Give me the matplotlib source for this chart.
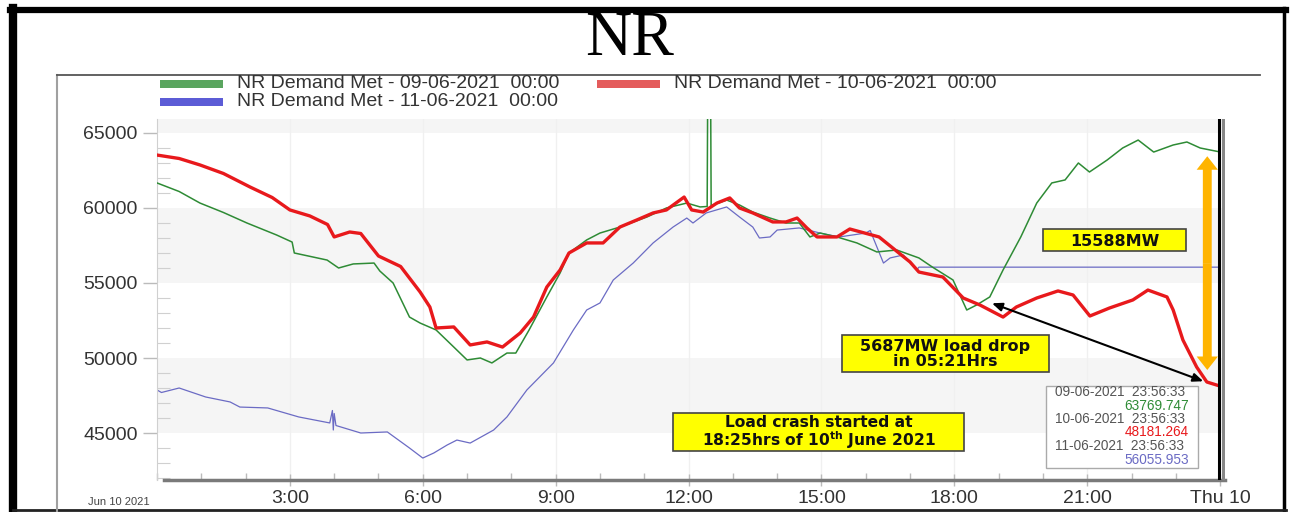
import numpy as np
import matplotlib
matplotlib.use("Agg")
import matplotlib.pyplot as plt
from matplotlib.patches import Rectangle, FancyArrow
from matplotlib.ticker import MultipleLocator, FixedLocator

plt.rcParams['font.family'] = ['Liberation Sans', 'DejaVu Sans']

# ---- data (hour of day, MW) ----
red_h = [0, 0.5, 0.97, 1.5, 2.1, 2.6, 3.0, 3.45, 3.85, 4.0, 4.35, 4.6, 5.0, 5.5,
         5.94, 6.16, 6.3, 6.7, 7.07, 7.45, 7.8, 8.2, 8.5, 8.8, 9.1, 9.3, 9.7,
         10.07, 10.45, 10.83, 11.2, 11.5, 11.9, 12.07, 12.33, 12.64, 12.93, 13.15,
         13.45, 13.9, 14.2, 14.45, 14.67, 14.9, 15.35, 15.64, 16.3, 17.0, 17.2,
         17.74, 18.2, 18.58, 19.1, 19.4, 19.86, 20.34, 20.68, 21.06, 21.5, 22.03,
         22.37, 22.8, 22.94, 23.16, 23.47, 23.7, 23.94]
red_v = [63530, 63300, 62870, 62300, 61400, 60700, 59870, 59470, 58900, 58070,
         58400, 58300, 56800, 56100, 54400, 53400, 52000, 52070, 50870, 51070,
         50730, 51670, 52730, 54730, 55870, 57000, 57670, 57670, 58730, 59200,
         59670, 59870, 60730, 59870, 59730, 60330, 60670, 60000, 59670, 59070,
         59070, 59330, 58670, 58070, 58070, 58600, 58070, 56400, 55730, 55400,
         54000, 53530, 52730, 53400, 54000, 54470, 54200, 52800, 53330, 53870,
         54530, 54070, 53200, 51200, 49400, 48400, 48181]

green_h = [0, 0.5, 0.97, 1.5, 2.03, 2.7, 3.05, 3.1, 3.84, 4.1, 4.43, 4.9, 5.03,
           5.33, 5.7, 5.94, 6.3, 6.7, 7.0, 7.3, 7.56, 7.9, 8.1, 8.4, 8.8, 9.1,
           9.3, 9.7, 10.0, 10.45, 11.06, 11.5, 11.96, 12.26, 12.42, 12.43, 12.50,
           12.51, 12.86, 13.15, 13.45, 13.84, 14.2, 14.5, 14.74, 14.97, 15.35,
           15.8, 16.25, 16.7, 17.2, 17.5, 17.97, 18.28, 18.5, 18.8, 19.1, 19.5,
           19.86, 20.2, 20.5, 20.8, 21.05, 21.45, 21.8, 22.15, 22.5, 22.94,
           23.25, 23.55, 23.94]
green_v = [61670, 61100, 60330, 59700, 59000, 58200, 57730, 57000, 56530, 56000,
           56270, 56330, 55800, 55000, 52730, 52330, 51870, 50730, 49870, 50000,
           49670, 50330, 50330, 51870, 54070, 55670, 57000, 57870, 58330, 58730,
           59400, 60000, 60330, 60070, 60100, 66500, 66500, 60150, 60530, 60200,
           59730, 59330, 59000, 59000, 58070, 58330, 58070, 57670, 57070, 57200,
           56670, 56070, 55200, 53200, 53530, 54070, 55870, 58070, 60330, 61670,
           61870, 63000, 62400, 63200, 64000, 64530, 63730, 64200, 64400, 64000,
           63770]

blue_h = [0, 0.1, 0.5, 1.1, 1.65, 1.87, 2.5, 3.2, 3.9, 3.96, 3.98, 4.0, 4.04,
          4.6, 5.2, 5.7, 6.0, 6.25, 6.55, 6.77, 7.07, 7.6, 7.9, 8.35, 8.95, 9.4,
          9.7, 10.0, 10.3, 10.75, 11.2, 11.65, 11.96, 12.1, 12.4, 12.86, 13.15,
          13.45, 13.6, 13.84, 14.0, 14.5, 14.97, 15.4, 16.0, 16.1, 16.4, 16.55,
          16.85, 17.15, 17.2, 23.94]
blue_v = [47870, 47700, 48000, 47400, 47070, 46730, 46670, 46070, 45670, 46500,
          45200, 46300, 45500, 45000, 45070, 44000, 43330, 43670, 44200, 44530,
          44330, 45200, 46070, 47870, 49670, 51870, 53200, 53670, 55200, 56330,
          57670, 58730, 59330, 59000, 59670, 60070, 59400, 58730, 58000, 58070,
          58530, 58670, 58330, 58070, 58330, 58500, 56330, 56670, 56870, 55870,
          56056, 56056]

legend_labels = ['NR Demand Met - 09-06-2021  00:00',
                 'NR Demand Met - 10-06-2021  00:00',
                 'NR Demand Met - 11-06-2021  00:00']
x_ticks = [3, 6, 9, 12, 15, 18, 21, 24]
x_labels = ['3:00', '6:00', '9:00', '12:00', '15:00', '18:00', '21:00', 'Thu 10']
y_ticks = [45000, 50000, 55000, 60000, 65000]
end_time = '23:56:33'
end_values = ['63769.747', '48181.264', '56055.953']
end_dates = ['09-06-2021', '10-06-2021', '11-06-2021']

c_green = '#2e8b35'
c_red = '#e8191c'
c_blue = '#6b6bc4'

W, H = 1291, 512
fig = plt.figure(figsize=(W / 100, H / 100), dpi=100)

# main plot area (pixel box 157..1225 x 119..480)
ax = fig.add_axes([157 / W, 1 - 480 / H, (1225 - 157) / W, (480 - 119) / H])
ax.set_xlim(0, 24.11)
ax.set_ylim(41867, 65933)

# light alternating bands
for lo, hi in [(45000, 50000), (55000, 60000), (65000, 66000)]:
    ax.axhspan(lo, hi, color='#f5f5f5', zorder=0, lw=0)
for t in x_ticks[:-1]:
    ax.axvline(t, color='#f0f0f0', lw=1, zorder=0.5)

ax.plot(blue_h, blue_v, color=c_blue, lw=0.9, zorder=2)
ax.plot(green_h, green_v, color=c_green, lw=1.1, zorder=3)
ax.plot(red_h, red_v, color=c_red, lw=2.4, zorder=4)

# cursor line at end of day
ax.axvline(23.97, color='black', lw=2.2, zorder=6)
ax.axvline(24.07, color='#888888', lw=2.2, zorder=6)

# 15588 MW gap arrow
xa = 23.71
ymid = (63450 + 49200) / 2
for y_end in (63450, 49200):
    ax.add_patch(FancyArrow(xa, ymid, 0, y_end - ymid, width=0.2, head_width=0.48,
                            head_length=900, length_includes_head=True,
                            color='#ffb400', lw=0, zorder=7))

# load drop arrow
ax.annotate('', xy=(18.85, 53650), xytext=(23.62, 48450),
            arrowprops=dict(arrowstyle='<|-|>,head_length=0.6,head_width=0.25',
                            color='black', lw=1.5, shrinkA=0, shrinkB=0), zorder=8)

# axes styling
for s in ['top', 'right']:
    ax.spines[s].set_visible(False)
ax.spines['left'].set_color('#d0d0d0')
ax.spines['left'].set_linewidth(0.8)
ax.spines['bottom'].set_color('#7a7a7a')
ax.spines['bottom'].set_linewidth(2.5)
ax.spines['bottom'].set_bounds(0.15, 24.11)

ax.xaxis.set_major_locator(FixedLocator(x_ticks))
ax.set_xticklabels(x_labels)
ax.xaxis.set_minor_locator(MultipleLocator(1))
ax.tick_params(axis='x', which='major', direction='inout', length=9, width=1,
               color='#bbbbbb', labelsize=14, labelcolor='#333333', pad=3)
ax.tick_params(axis='x', which='minor', direction='in', length=5, width=1,
               color='#bbbbbb')
ax.yaxis.set_major_locator(FixedLocator(y_ticks))
ax.set_yticklabels([str(v) for v in y_ticks])
ax.yaxis.set_minor_locator(MultipleLocator(1000))
ax.tick_params(axis='y', which='major', direction='out', length=10, width=1,
               color='#bbbbbb', labelsize=14, labelcolor='#333333', pad=4)
ax.tick_params(axis='y', which='minor', direction='in', length=9, width=0.8,
               color='#d0d0d0')

# overlay in pixel coordinates for frame, legend and notes
ov = fig.add_axes([0, 0, 1, 1])
ov.set_xlim(0, W)
ov.set_ylim(H, 0)
ov.axis('off')
ov.patch.set_visible(False)

# outer frame
ov.plot([10, 1286], [10, 10], color='black', lw=4.5)
ov.plot([13, 13], [8, 512], color='black', lw=6)
ov.plot([1284, 1284], [8, 512], color='black', lw=2.5)
ov.plot([13, 1286], [509.5, 509.5], color='#222222', lw=2)
ov.plot([57, 57], [75, 512], color='#a0a0a0', lw=1.5)
ov.plot([57, 1260], [75, 75], color='#555555', lw=1.3)

ov.text(630, 40, 'NR', fontsize=46, family='Liberation Serif', ha='center',
        va='center', color='black')

# legend
leg_pos = [(160, 84), (597, 84), (160, 102)]
leg_cols = ['#5aa55f', '#e45c5c', '#5c5cd6']
for (lx, ly), col, lab in zip(leg_pos, leg_cols, legend_labels):
    ov.add_patch(Rectangle((lx, ly - 4), 63, 8, color=col, lw=0))
    ov.text(lx + 77, ly, lab, fontsize=14, va='center', ha='left', color='#333333')

# yellow note boxes
notes = [((1043, 229, 1186, 251), '15588MW', 11.5),
         ((842, 335, 1049, 372), '5687MW load drop\nin 05:21Hrs', 11.5),
         ((673, 413, 964, 451),
          'Load crash started at\n18:25hrs of 10$^{\\mathbf{th}}$ June 2021', 11.2)]
for (x0, y0, x1, y1), txt, fs in notes:
    ov.add_patch(Rectangle((x0, y0), x1 - x0, y1 - y0, fc='#ffff00', ec='#444444',
                           lw=1.2, zorder=5))
    ov.text((x0 + x1) / 2, (y0 + y1) / 2 + 1, txt, fontsize=fs, family='DejaVu Sans',
            fontweight='bold', ha='center', va='center', linespacing=1.0,
            color='#111111', zorder=6)

# cursor value box
ov.add_patch(Rectangle((1046, 386), 152, 82, fc='white', ec='#aaaaaa', lw=1, zorder=5))
for i, (d, v, col) in enumerate(zip(end_dates, end_values, [c_green, c_red, c_blue])):
    yy = 392 + i * 27
    ov.text(1055, yy, d + '  ' + end_time, fontsize=9.8, color='#555555',
            ha='left', va='center', zorder=6)
    ov.text(1189, yy + 13.5, v, fontsize=9.8, color=col, ha='right', va='center',
            zorder=6)

# date text at the bottom left
ov.text(88, 507, 'Jun 10 2021', fontsize=8, color='#444444', ha='left', va='bottom')

fig.savefig('out.png', dpi=100)
